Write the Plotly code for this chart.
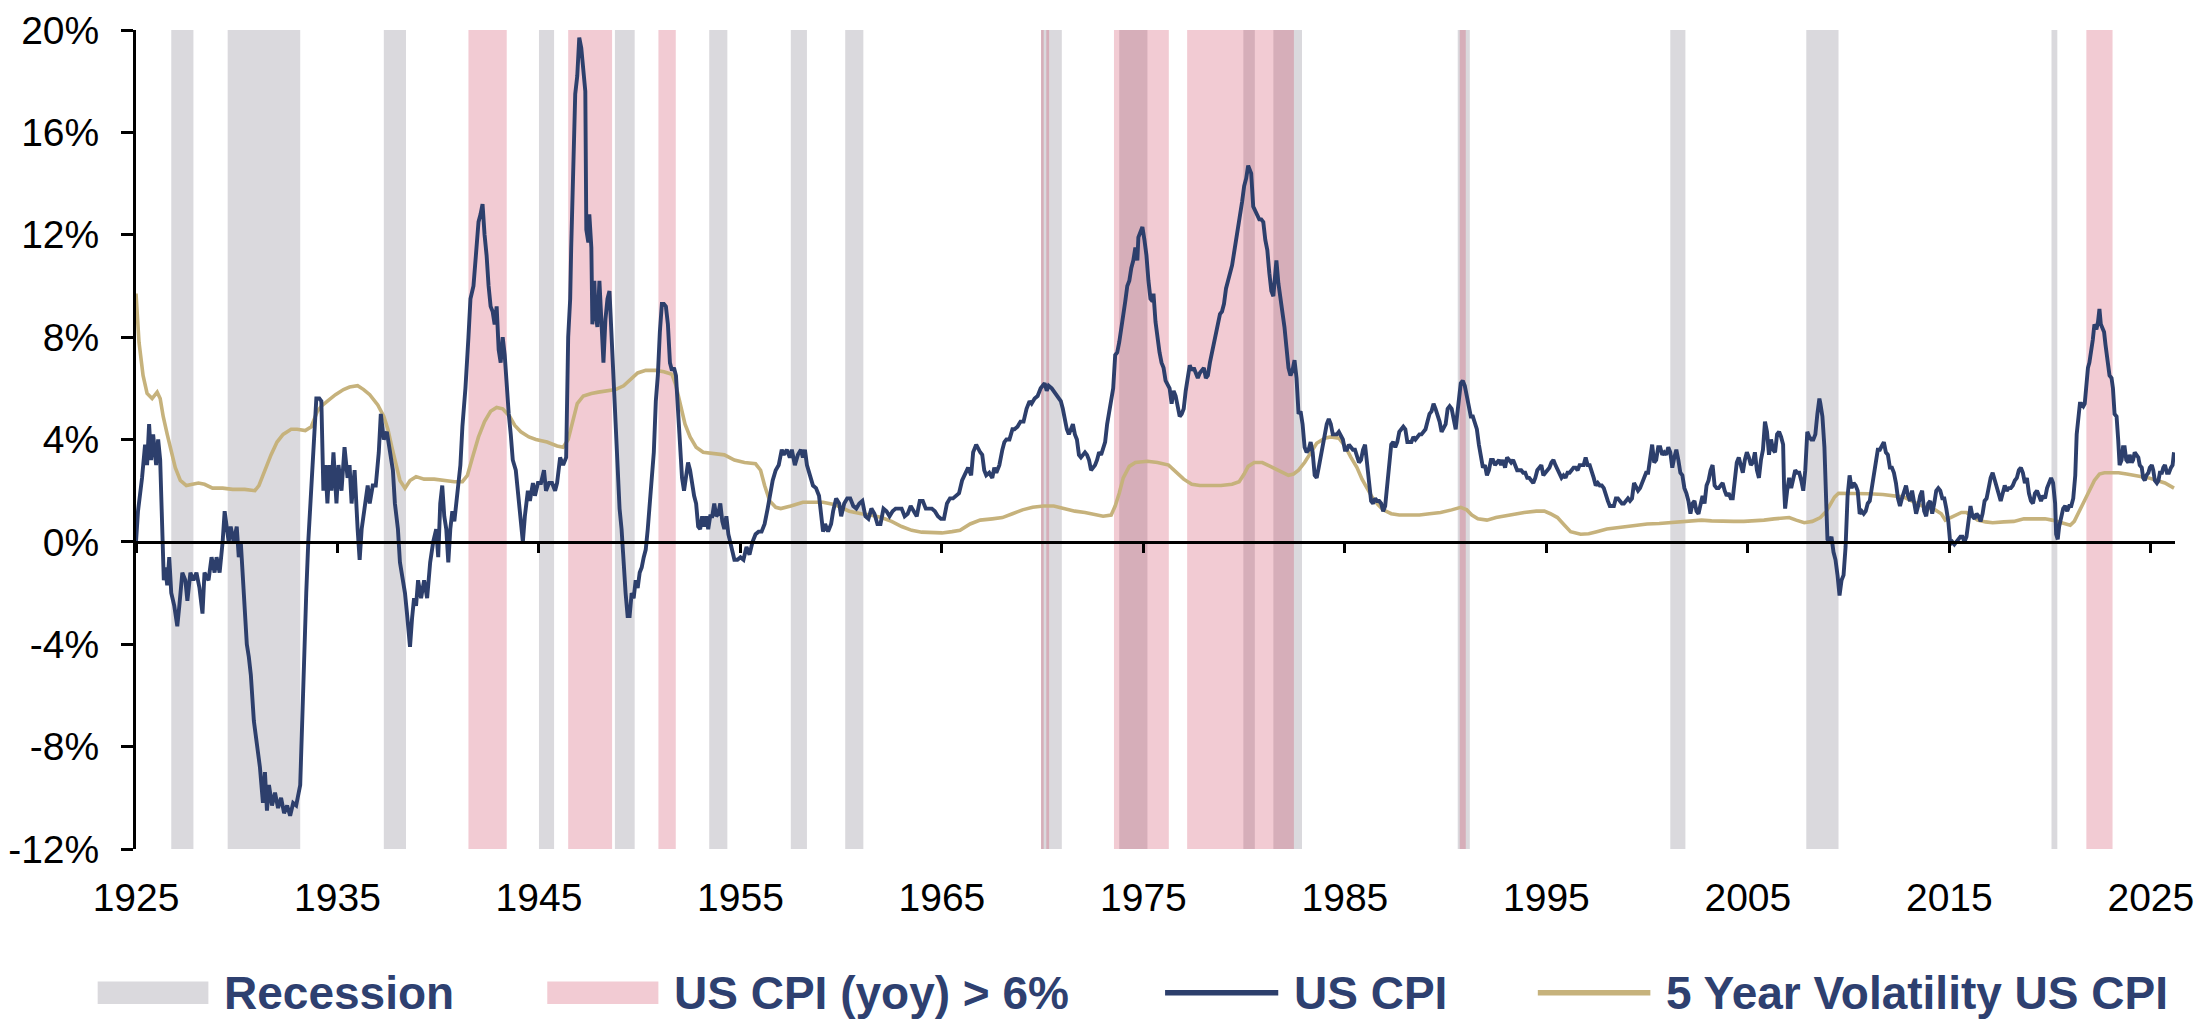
import plotly.graph_objects as go

# ---------------- data ----------------
cpi_year = [
    1925.0, 1925.1, 1925.3, 1925.45, 1925.55, 1925.65, 1925.75, 1925.85, 1926.0, 1926.1, 1926.2, 1926.3,
    1926.38, 1926.45, 1926.55, 1926.65, 1926.75, 1926.9, 1927.05, 1927.15, 1927.3, 1927.45, 1927.55, 1927.7,
    1927.85, 1928.0, 1928.15, 1928.3, 1928.4, 1928.6, 1928.75, 1928.9, 1929.0, 1929.15, 1929.3, 1929.4,
    1929.5, 1929.6, 1929.7, 1929.85, 1930.0, 1930.1, 1930.2, 1930.3, 1930.4, 1930.5, 1930.6, 1930.7,
    1930.85, 1931.0, 1931.15, 1931.3, 1931.4, 1931.5, 1931.6, 1931.75, 1931.9, 1932.05, 1932.2, 1932.35,
    1932.5, 1932.65, 1932.8, 1932.95, 1933.05, 1933.15, 1933.25, 1933.35, 1933.45, 1933.55, 1933.65, 1933.75,
    1933.85, 1933.95, 1934.1, 1934.2, 1934.3, 1934.4, 1934.5, 1934.6, 1934.7, 1934.8, 1934.95, 1935.05,
    1935.2, 1935.35, 1935.5, 1935.6, 1935.7, 1935.85, 1936.0, 1936.1, 1936.2, 1936.35, 1936.5, 1936.6,
    1936.75, 1936.9, 1937.05, 1937.15, 1937.3, 1937.45, 1937.6, 1937.75, 1937.85, 1938.0, 1938.1, 1938.25,
    1938.35, 1938.45, 1938.6, 1938.7, 1938.8, 1938.9, 1939.0, 1939.15, 1939.3, 1939.45, 1939.6, 1939.75,
    1939.9, 1940.0, 1940.1, 1940.2, 1940.3, 1940.4, 1940.5, 1940.6, 1940.7, 1940.8, 1940.9, 1941.0,
    1941.1, 1941.2, 1941.35, 1941.5, 1941.6, 1941.75, 1941.85, 1942.0, 1942.1, 1942.2, 1942.3, 1942.4,
    1942.5, 1942.6, 1942.7, 1942.8, 1942.9, 1943.0, 1943.1, 1943.2, 1943.3, 1943.4, 1943.5, 1943.6,
    1943.7, 1943.85, 1944.0, 1944.1, 1944.2, 1944.3, 1944.45, 1944.55, 1944.7, 1944.8, 1944.95, 1945.1,
    1945.25, 1945.35, 1945.5, 1945.65, 1945.8, 1945.9, 1946.05, 1946.2, 1946.35, 1946.45, 1946.55, 1946.6,
    1946.7, 1946.8, 1946.9, 1947.0, 1947.1, 1947.2, 1947.3, 1947.35, 1947.45, 1947.5, 1947.6, 1947.65,
    1947.75, 1947.8, 1947.9, 1948.0, 1948.1, 1948.2, 1948.3, 1948.4, 1948.5, 1948.6, 1948.7, 1948.8,
    1948.9, 1949.0, 1949.1, 1949.2, 1949.3, 1949.4, 1949.5, 1949.6, 1949.7, 1949.8, 1949.9, 1950.0,
    1950.1, 1950.2, 1950.3, 1950.4, 1950.5, 1950.6, 1950.7, 1950.8, 1950.9, 1951.0, 1951.1, 1951.2,
    1951.3, 1951.4, 1951.5, 1951.6, 1951.7, 1951.8, 1951.9, 1952.0, 1952.1, 1952.2, 1952.3, 1952.4,
    1952.5, 1952.6, 1952.7, 1952.8, 1952.9, 1953.0, 1953.1, 1953.2, 1953.3, 1953.4, 1953.5, 1953.6,
    1953.7, 1953.8, 1953.9, 1954.0, 1954.1, 1954.2, 1954.3, 1954.4, 1954.5, 1954.6, 1954.7, 1954.85,
    1955.0, 1955.15, 1955.3, 1955.45, 1955.6, 1955.75, 1955.9, 1956.05, 1956.2, 1956.35, 1956.5, 1956.6,
    1956.75, 1956.9, 1957.05, 1957.15, 1957.3, 1957.45, 1957.55, 1957.7, 1957.85, 1958.0, 1958.1, 1958.2,
    1958.3, 1958.45, 1958.6, 1958.75, 1958.9, 1959.0, 1959.1, 1959.2, 1959.35, 1959.5, 1959.6, 1959.75,
    1959.9, 1960.0, 1960.15, 1960.3, 1960.45, 1960.6, 1960.75, 1960.9, 1961.05, 1961.2, 1961.35, 1961.5,
    1961.65, 1961.8, 1961.95, 1962.1, 1962.25, 1962.4, 1962.55, 1962.7, 1962.85, 1963.0, 1963.15, 1963.3,
    1963.45, 1963.6, 1963.75, 1963.9, 1964.05, 1964.2, 1964.35, 1964.5, 1964.65, 1964.8, 1964.95, 1965.1,
    1965.25, 1965.4, 1965.55, 1965.7, 1965.85, 1966.0, 1966.15, 1966.3, 1966.45, 1966.55, 1966.7, 1966.8,
    1966.9, 1967.0, 1967.1, 1967.2, 1967.35, 1967.5, 1967.6, 1967.7, 1967.85, 1968.0, 1968.1, 1968.2,
    1968.35, 1968.5, 1968.6, 1968.75, 1968.9, 1969.05, 1969.2, 1969.35, 1969.45, 1969.6, 1969.75, 1969.9,
    1970.0, 1970.1, 1970.2, 1970.3, 1970.45, 1970.55, 1970.7, 1970.8, 1970.9, 1971.0, 1971.1, 1971.2,
    1971.3, 1971.4, 1971.5, 1971.6, 1971.7, 1971.8, 1971.9, 1972.0, 1972.1, 1972.2, 1972.3, 1972.4,
    1972.5, 1972.6, 1972.7, 1972.8, 1972.9, 1973.0, 1973.1, 1973.2, 1973.3, 1973.4, 1973.5, 1973.6,
    1973.7, 1973.8, 1973.9, 1974.0, 1974.1, 1974.2, 1974.3, 1974.4, 1974.5, 1974.6, 1974.7, 1974.75,
    1974.85, 1974.95, 1975.05, 1975.15, 1975.25, 1975.35, 1975.45, 1975.5, 1975.6, 1975.7, 1975.8, 1975.9,
    1976.0, 1976.1, 1976.2, 1976.3, 1976.4, 1976.5, 1976.6, 1976.7, 1976.8, 1976.9, 1977.0, 1977.1,
    1977.2, 1977.3, 1977.4, 1977.5, 1977.6, 1977.7, 1977.8, 1977.9, 1978.0, 1978.1, 1978.2, 1978.3,
    1978.4, 1978.5, 1978.6, 1978.7, 1978.8, 1978.9, 1979.0, 1979.1, 1979.2, 1979.3, 1979.4, 1979.5,
    1979.6, 1979.7, 1979.8, 1979.9, 1980.0, 1980.1, 1980.2, 1980.3, 1980.35, 1980.45, 1980.55, 1980.65,
    1980.75, 1980.85, 1980.95, 1981.05, 1981.15, 1981.25, 1981.35, 1981.45, 1981.55, 1981.6, 1981.7, 1981.8,
    1981.9, 1982.0, 1982.1, 1982.2, 1982.3, 1982.4, 1982.5, 1982.6, 1982.7, 1982.8, 1982.9, 1983.0,
    1983.1, 1983.2, 1983.3, 1983.4, 1983.5, 1983.6, 1983.7, 1983.8, 1983.9, 1984.0, 1984.1, 1984.2,
    1984.3, 1984.4, 1984.5, 1984.6, 1984.7, 1984.8, 1984.9, 1985.0, 1985.1, 1985.2, 1985.3, 1985.4,
    1985.5, 1985.6, 1985.7, 1985.8, 1985.9, 1986.0, 1986.1, 1986.2, 1986.3, 1986.4, 1986.5, 1986.6,
    1986.7, 1986.8, 1986.9, 1987.0, 1987.1, 1987.2, 1987.3, 1987.4, 1987.5, 1987.6, 1987.7, 1987.8,
    1987.9, 1988.0, 1988.1, 1988.2, 1988.3, 1988.4, 1988.5, 1988.6, 1988.7, 1988.8, 1988.9, 1989.0,
    1989.1, 1989.2, 1989.3, 1989.4, 1989.5, 1989.6, 1989.7, 1989.8, 1989.9, 1990.0, 1990.1, 1990.2,
    1990.3, 1990.4, 1990.5, 1990.55, 1990.65, 1990.75, 1990.85, 1990.95, 1991.05, 1991.15, 1991.25, 1991.35,
    1991.45, 1991.55, 1991.65, 1991.75, 1991.85, 1991.95, 1992.05, 1992.15, 1992.25, 1992.35, 1992.45, 1992.55,
    1992.65, 1992.75, 1992.85, 1992.95, 1993.05, 1993.15, 1993.25, 1993.35, 1993.45, 1993.55, 1993.65, 1993.75,
    1993.85, 1993.95, 1994.05, 1994.15, 1994.25, 1994.35, 1994.45, 1994.55, 1994.65, 1994.75, 1994.85, 1994.95,
    1995.05, 1995.15, 1995.25, 1995.35, 1995.45, 1995.55, 1995.65, 1995.75, 1995.85, 1995.95, 1996.05, 1996.15,
    1996.25, 1996.35, 1996.45, 1996.55, 1996.65, 1996.75, 1996.85, 1996.95, 1997.05, 1997.15, 1997.25, 1997.35,
    1997.45, 1997.55, 1997.65, 1997.75, 1997.85, 1997.95, 1998.05, 1998.15, 1998.25, 1998.35, 1998.45, 1998.55,
    1998.65, 1998.75, 1998.85, 1998.95, 1999.05, 1999.15, 1999.25, 1999.35, 1999.45, 1999.55, 1999.65, 1999.75,
    1999.85, 1999.95, 2000.05, 2000.15, 2000.25, 2000.35, 2000.45, 2000.55, 2000.65, 2000.75, 2000.85, 2000.95,
    2001.05, 2001.15, 2001.25, 2001.35, 2001.45, 2001.55, 2001.65, 2001.75, 2001.85, 2001.95, 2002.05, 2002.15,
    2002.25, 2002.35, 2002.45, 2002.55, 2002.65, 2002.75, 2002.85, 2002.95, 2003.05, 2003.15, 2003.25, 2003.35,
    2003.45, 2003.55, 2003.65, 2003.75, 2003.85, 2003.95, 2004.05, 2004.15, 2004.25, 2004.35, 2004.45, 2004.55,
    2004.65, 2004.75, 2004.85, 2004.95, 2005.05, 2005.15, 2005.25, 2005.35, 2005.45, 2005.55, 2005.65, 2005.75,
    2005.85, 2005.95, 2006.05, 2006.15, 2006.25, 2006.35, 2006.45, 2006.55, 2006.65, 2006.75, 2006.8, 2006.85,
    2006.95, 2007.05, 2007.15, 2007.25, 2007.35, 2007.45, 2007.55, 2007.65, 2007.75, 2007.85, 2007.95, 2008.05,
    2008.15, 2008.25, 2008.35, 2008.45, 2008.55, 2008.6, 2008.7, 2008.8, 2008.9, 2008.95, 2009.05, 2009.15,
    2009.25, 2009.35, 2009.45, 2009.55, 2009.65, 2009.75, 2009.85, 2009.95, 2010.05, 2010.15, 2010.25, 2010.35,
    2010.45, 2010.55, 2010.65, 2010.75, 2010.85, 2010.95, 2011.05, 2011.15, 2011.25, 2011.35, 2011.45, 2011.55,
    2011.65, 2011.75, 2011.85, 2011.95, 2012.05, 2012.15, 2012.25, 2012.35, 2012.45, 2012.55, 2012.65, 2012.75,
    2012.85, 2012.95, 2013.05, 2013.15, 2013.25, 2013.35, 2013.45, 2013.55, 2013.65, 2013.75, 2013.85, 2013.95,
    2014.05, 2014.15, 2014.25, 2014.35, 2014.45, 2014.55, 2014.65, 2014.75, 2014.85, 2014.95, 2015.05, 2015.15,
    2015.25, 2015.35, 2015.45, 2015.55, 2015.65, 2015.75, 2015.85, 2015.95, 2016.05, 2016.15, 2016.25, 2016.35,
    2016.45, 2016.55, 2016.65, 2016.75, 2016.85, 2016.95, 2017.05, 2017.15, 2017.25, 2017.35, 2017.45, 2017.55,
    2017.65, 2017.75, 2017.85, 2017.95, 2018.05, 2018.15, 2018.25, 2018.35, 2018.45, 2018.55, 2018.65, 2018.75,
    2018.85, 2018.95, 2019.05, 2019.15, 2019.25, 2019.35, 2019.45, 2019.55, 2019.65, 2019.75, 2019.85, 2019.95,
    2020.05, 2020.15, 2020.25, 2020.3, 2020.38, 2020.45, 2020.55, 2020.65, 2020.75, 2020.85, 2020.95, 2021.05,
    2021.15, 2021.25, 2021.32, 2021.4, 2021.48, 2021.55, 2021.65, 2021.72, 2021.8, 2021.88, 2021.95, 2022.05,
    2022.12, 2022.2, 2022.3, 2022.38, 2022.45, 2022.52, 2022.6, 2022.68, 2022.75, 2022.85, 2022.95, 2023.05,
    2023.12, 2023.2, 2023.3, 2023.38, 2023.45, 2023.55, 2023.62, 2023.7, 2023.78, 2023.88, 2023.95, 2024.05,
    2024.12, 2024.2, 2024.3, 2024.38, 2024.45, 2024.55, 2024.62, 2024.7, 2024.78, 2024.88, 2024.95, 2025.05,
    2025.12, 2025.2, 2025.3, 2025.38, 2025.45, 2025.55, 2025.62, 2025.7, 2025.8, 2025.9, 2026.0, 2026.08,
    2026.15,
]
cpi_value = [
    0.0, 1.2, 2.5, 3.8, 3.0, 4.6, 3.2, 4.2, 3.0, 4.0, 3.2, 0.5,
    -1.5, -1.0, -1.7, -0.6, -2.0, -2.5, -3.3, -2.5, -1.2, -1.5, -2.3, -1.2,
    -1.5, -1.2, -1.8, -2.8, -1.2, -1.5, -0.6, -1.2, -0.6, -1.2, 0.0, 1.2,
    0.6, 0.0, 0.6, 0.0, 0.6, -0.6, 0.0, -1.5, -2.3, -4.0, -4.5, -5.2,
    -7.0, -8.0, -8.8, -10.2, -9.0, -10.5, -9.5, -10.3, -9.8, -10.4, -10.0, -10.6,
    -10.3, -10.7, -10.2, -10.3, -9.8, -9.5, -7.0, -4.0, -2.0, 0.0, 1.5, 3.0,
    4.5, 5.6, 5.6, 5.5, 2.0, 3.0, 1.5, 3.0, 2.0, 3.5, 1.5, 3.0,
    2.0, 3.7, 2.5, 3.0, 1.5, 2.8, 0.5, -0.7, 0.5, 1.5, 2.2, 1.5,
    2.2, 2.2, 3.5, 5.0, 4.0, 4.3, 3.5, 2.8, 1.5, 0.5, -0.8, -1.5,
    -2.0, -2.8, -4.1, -3.0, -2.2, -2.5, -1.5, -2.2, -1.5, -2.2, -0.8, 0.0,
    0.5, -0.6, 1.5, 2.2, 1.0, 0.5, -0.8, 0.5, 1.2, 0.8, 1.5, 2.5,
    3.0, 4.5, 6.0, 8.0, 9.5, 10.0, 11.0, 12.5, 12.8, 13.2, 12.0, 11.2,
    10.0, 9.2, 9.0, 8.5, 9.2, 7.5, 7.0, 8.0, 7.3, 6.0, 5.0, 4.2,
    3.2, 2.8, 1.5, 1.0, 0.0, 1.0, 2.0, 1.6, 2.3, 1.8, 2.3, 2.3,
    2.8, 2.0, 2.3, 2.3, 2.0, 2.3, 3.3, 3.0, 3.3, 8.0, 9.5, 11.5,
    14.0, 17.5, 18.2, 19.7, 19.3, 18.5, 17.6, 12.2, 11.7, 12.8, 11.5, 8.5,
    10.2, 9.0, 8.4, 10.2, 8.5, 7.0, 8.7, 9.5, 9.8, 8.0, 6.5, 4.7,
    3.0, 1.3, 0.5, -1.0, -2.0, -2.9, -2.9, -2.0, -2.2, -1.5, -1.8, -1.2,
    -1.0, -0.6, -0.3, 0.5, 1.5, 2.2, 3.5, 5.5, 6.5, 8.2, 9.3, 9.3,
    9.2, 8.5, 7.0, 6.7, 6.8, 6.5, 5.0, 4.2, 2.5, 2.0, 2.5, 3.1,
    2.8, 2.2, 1.8, 1.5, 0.6, 0.5, 1.0, 0.6, 1.0, 0.5, 1.0, 1.0,
    1.5, 1.0, 1.1, 1.5, 0.8, 0.5, 1.0, 0.3, 0.0, -0.4, -0.7, -0.7,
    -0.6, -0.7, -0.2, -0.5, 0.0, 0.3, 0.4, 0.4, 0.7, 1.3, 2.0, 2.4,
    2.8, 3.0, 3.6, 3.4, 3.6, 3.3, 3.6, 3.0, 3.4, 3.6, 3.3, 3.6,
    3.0, 2.6, 2.2, 2.1, 1.8, 1.1, 0.4, 0.7, 0.4, 0.7, 1.2, 1.7,
    1.5, 1.0, 1.5, 1.7, 1.7, 1.4, 1.3, 1.5, 1.6, 1.0, 0.9, 1.3,
    1.1, 0.7, 0.7, 1.3, 1.2, 1.0, 1.2, 1.3, 1.3, 1.3, 1.0, 1.1,
    1.4, 1.2, 1.0, 1.6, 1.6, 1.3, 1.3, 1.3, 1.2, 1.0, 0.9, 0.9,
    1.5, 1.7, 1.7, 1.8, 1.9, 2.4, 2.7, 2.9, 2.6, 3.5, 3.8, 3.6,
    3.5, 3.4, 2.8, 2.6, 2.7, 2.5, 2.9, 2.7, 3.0, 3.6, 3.9, 4.0,
    4.0, 4.4, 4.4, 4.5, 4.7, 4.7, 5.2, 5.5, 5.4, 5.6, 5.7, 6.0,
    6.1, 6.2, 5.9, 6.1, 6.0, 5.9, 5.7, 5.6, 5.5, 5.2, 4.8, 4.4,
    4.2, 4.4, 4.6, 4.2, 4.0, 3.4, 3.3, 3.4, 3.5, 3.4, 3.2, 2.8,
    2.9, 3.0, 3.2, 3.5, 3.4, 3.6, 3.9, 4.6, 5.1, 5.6, 6.0, 7.3,
    7.4, 7.8, 8.3, 8.7, 9.4, 10.0, 10.2, 10.7, 11.0, 11.5, 11.0, 11.9,
    12.1, 12.3, 11.8, 11.2, 10.2, 9.5, 9.4, 9.7, 8.6, 7.9, 7.4, 7.0,
    6.8, 6.3, 6.1, 6.0, 5.4, 5.9, 5.7, 5.3, 4.9, 5.0, 5.2, 5.9,
    6.4, 6.9, 6.7, 6.8, 6.6, 6.4, 6.6, 6.7, 6.8, 6.4, 6.5, 7.0,
    7.4, 7.7, 8.1, 8.4, 8.9, 9.0, 9.3, 9.9, 10.2, 10.5, 10.8, 11.3,
    11.8, 12.1, 12.6, 13.3, 13.9, 14.2, 14.7, 14.5, 14.4, 13.1, 12.9, 12.8,
    12.6, 12.6, 12.5, 11.8, 11.4, 10.5, 9.8, 9.6, 10.8, 11.0, 10.1, 9.6,
    8.9, 8.4, 7.6, 6.8, 6.5, 6.7, 7.1, 6.4, 5.0, 5.1, 4.6, 3.7,
    3.5, 3.6, 3.9, 3.5, 2.6, 2.5, 2.9, 3.3, 3.8, 4.2, 4.6, 4.8,
    4.6, 4.2, 4.2, 4.2, 4.3, 4.1, 4.0, 3.6, 3.6, 3.8, 3.7, 3.6,
    3.6, 3.3, 3.1, 3.2, 3.6, 3.8, 3.1, 2.3, 1.6, 1.5, 1.7, 1.6,
    1.6, 1.5, 1.2, 1.4, 2.2, 3.0, 3.8, 3.9, 3.7, 3.9, 4.3, 4.4,
    4.5, 4.4, 3.9, 3.9, 3.9, 4.1, 4.0, 4.1, 4.2, 4.2, 4.3, 4.4,
    4.7, 5.0, 5.1, 5.4, 5.2, 5.0, 4.7, 4.3, 4.5, 4.6, 5.2, 5.3,
    5.2, 4.7, 4.4, 4.8, 5.6, 6.2, 6.3, 6.1, 5.7, 5.3, 4.9, 4.9,
    4.7, 4.4, 3.8, 3.4, 2.9, 3.0, 2.6, 2.8, 3.2, 3.2, 3.0, 3.1,
    3.2, 3.0, 3.2, 2.9, 3.3, 3.2, 3.1, 3.2, 3.0, 2.8, 2.8, 2.8,
    2.7, 2.7, 2.5, 2.5, 2.4, 2.3, 2.5, 2.8, 2.9, 3.0, 2.6, 2.7,
    2.8, 2.9, 3.1, 3.2, 3.0, 2.8, 2.6, 2.5, 2.6, 2.5, 2.7, 2.7,
    2.8, 2.9, 2.9, 2.8, 3.0, 3.0, 3.0, 3.3, 3.0, 3.0, 2.8, 2.5,
    2.2, 2.3, 2.2, 2.2, 2.1, 1.8, 1.6, 1.4, 1.4, 1.4, 1.7, 1.7,
    1.6, 1.5, 1.5, 1.6, 1.7, 1.6, 1.7, 2.3, 2.1, 2.0, 2.1, 2.3,
    2.6, 2.7, 2.7, 3.2, 3.8, 3.1, 3.2, 3.7, 3.7, 3.4, 3.5, 3.4,
    3.7, 3.5, 2.9, 3.3, 3.6, 3.2, 2.7, 2.6, 2.1, 1.9, 1.6, 1.1,
    1.5, 1.6, 1.2, 1.1, 1.5, 1.8, 1.5, 2.2, 2.4, 2.8, 3.0, 2.2,
    2.1, 2.1, 2.2, 2.3, 2.0, 1.8, 1.9, 1.7, 1.7, 2.3, 3.1, 3.3,
    3.0, 2.7, 3.2, 3.5, 3.3, 3.0, 3.1, 3.5, 2.8, 2.5, 3.2, 3.6,
    4.7, 4.3, 3.4, 4.0, 3.6, 3.5, 4.2, 4.3, 4.1, 3.8, 2.1, 1.3,
    2.0, 2.5, 2.1, 2.4, 2.8, 2.7, 2.7, 2.4, 2.0, 2.8, 4.3, 4.1,
    4.0, 4.0, 4.2, 5.0, 5.6, 5.4, 4.9, 3.7, 1.1, 0.1, 0.0, 0.2,
    -0.4, -0.7, -1.3, -2.1, -1.5, -1.3, -0.2, 1.8, 2.6, 2.1, 2.3, 2.2,
    2.0, 1.1, 1.2, 1.1, 1.2, 1.5, 1.6, 2.1, 2.7, 3.2, 3.6, 3.6,
    3.8, 3.9, 3.5, 3.4, 2.9, 2.9, 2.7, 2.3, 1.7, 1.4, 1.7, 2.0,
    2.2, 1.8, 1.6, 2.0, 1.5, 1.1, 1.4, 1.8, 2.0, 1.2, 1.0, 1.5,
    1.6, 1.1, 1.5, 2.0, 2.1, 2.0, 1.7, 1.7, 1.3, 0.8, -0.1, 0.0,
    -0.1, 0.0, 0.1, 0.2, 0.2, 0.0, 0.2, 0.7, 1.4, 1.0, 0.9, 1.1,
    1.0, 0.8, 1.1, 1.6, 1.7, 2.1, 2.5, 2.7, 2.4, 2.2, 1.9, 1.6,
    1.9, 2.2, 2.0, 2.1, 2.1, 2.2, 2.4, 2.5, 2.8, 2.9, 2.7, 2.3,
    2.5, 1.9, 1.6, 1.5, 1.9, 2.0, 1.8, 1.6, 1.8, 1.7, 2.1, 2.3,
    2.5, 2.3, 1.5, 0.3, 0.1, 0.6, 1.0, 1.3, 1.4, 1.2, 1.4, 1.4,
    1.7, 2.6, 4.2, 5.0, 5.4, 5.4, 5.3, 5.4, 6.2, 6.8, 7.0, 7.5,
    7.9, 8.5, 8.3, 8.6, 9.1, 8.5, 8.3, 8.2, 7.7, 7.1, 6.5, 6.4,
    6.0, 5.0, 4.9, 4.0, 3.0, 3.2, 3.7, 3.7, 3.2, 3.1, 3.4, 3.1,
    3.2, 3.5, 3.4, 3.3, 3.0, 2.9, 2.5, 2.4, 2.6, 2.7, 2.9, 3.0,
    2.8, 2.4, 2.3, 2.4, 2.7, 2.7, 2.9, 3.0, 2.7, 2.7, 2.9, 3.0,
    3.5,
]

vol_year = [
    1925.0, 1925.15, 1925.35, 1925.55, 1925.8, 1926.05, 1926.2, 1926.35, 1926.55, 1926.75, 1926.95, 1927.2,
    1927.5, 1927.8, 1928.1, 1928.4, 1928.8, 1929.3, 1929.8, 1930.4, 1930.9, 1931.1, 1931.4, 1931.7,
    1932.0, 1932.3, 1932.7, 1933.0, 1933.4, 1933.7, 1934.0, 1934.2, 1934.5, 1934.9, 1935.3, 1935.6,
    1936.0, 1936.3, 1936.6, 1937.0, 1937.3, 1937.5, 1937.7, 1937.9, 1938.1, 1938.35, 1938.6, 1938.9,
    1939.3, 1939.8, 1940.3, 1940.8, 1941.2, 1941.45, 1941.7, 1942.0, 1942.3, 1942.6, 1942.9, 1943.2,
    1943.55, 1943.8, 1944.1, 1944.5, 1944.85, 1945.4, 1945.9, 1946.2, 1946.45, 1946.65, 1946.9, 1947.2,
    1947.6, 1947.95, 1948.4, 1948.8, 1949.2, 1949.6, 1949.9, 1950.3, 1950.8, 1951.2, 1951.6, 1951.8,
    1952.0, 1952.25, 1952.5, 1952.8, 1953.15, 1953.6, 1954.2, 1954.7, 1955.2, 1955.75, 1956.0, 1956.2,
    1956.45, 1956.75, 1957.0, 1957.5, 1958.1, 1958.6, 1959.1, 1959.7, 1960.4, 1961.0, 1961.45, 1962.0,
    1962.5, 1963.0, 1963.5, 1964.0, 1964.55, 1965.0, 1965.5, 1965.9, 1966.4, 1966.9, 1967.5, 1968.0,
    1968.5, 1969.0, 1969.5, 1970.05, 1970.55, 1971.0, 1971.6, 1972.1, 1972.6, 1973.0, 1973.4, 1973.6,
    1973.8, 1974.0, 1974.3, 1974.6, 1975.2, 1975.7, 1976.25, 1976.6, 1977.0, 1977.4, 1977.8, 1978.4,
    1978.85, 1979.4, 1979.75, 1980.0, 1980.2, 1980.5, 1980.9, 1981.3, 1981.7, 1982.0, 1982.2, 1982.45,
    1982.7, 1983.0, 1983.3, 1983.6, 1984.0, 1984.3, 1984.7, 1985.0, 1985.3, 1985.6, 1985.85, 1986.1,
    1986.35, 1986.65, 1986.9, 1987.3, 1987.7, 1988.2, 1988.7, 1989.2, 1989.75, 1990.3, 1990.75, 1991.05,
    1991.3, 1991.6, 1992.05, 1992.5, 1992.8, 1993.4, 1993.9, 1994.5, 1994.9, 1995.2, 1995.55, 1995.9,
    1996.2, 1996.7, 1997.1, 1997.5, 1998.0, 1998.5, 1999.0, 1999.5, 2000.0, 2000.6, 2001.1, 2001.65,
    2002.2, 2002.7, 2003.2, 2003.7, 2004.3, 2004.8, 2005.3, 2005.8, 2006.3, 2006.7, 2007.05, 2007.4,
    2007.8, 2008.2, 2008.6, 2008.9, 2009.1, 2009.3, 2009.5, 2010.0, 2010.4, 2011.0, 2011.7, 2012.2,
    2012.75, 2013.25, 2013.8, 2014.3, 2014.6, 2014.8, 2015.1, 2015.35, 2015.6, 2015.85, 2016.1, 2016.4,
    2016.8, 2017.15, 2017.7, 2018.2, 2018.7, 2019.2, 2019.75, 2020.1, 2020.5, 2020.8, 2021.0, 2021.2,
    2021.4, 2021.7, 2021.95, 2022.2, 2022.45, 2022.7, 2023.1, 2023.4, 2023.8, 2024.15, 2024.5, 2024.9,
    2025.3, 2025.7, 2026.15,
]
vol_value = [
    9.7, 7.8, 6.5, 5.8, 5.6, 5.85, 5.6, 4.9, 4.2, 3.5, 2.9, 2.4,
    2.2, 2.25, 2.3, 2.25, 2.1, 2.1, 2.05, 2.05, 2.0, 2.2, 2.8, 3.4,
    3.9, 4.2, 4.4, 4.4, 4.35, 4.5, 5.1, 5.3, 5.5, 5.75, 5.95, 6.05,
    6.1, 5.95, 5.75, 5.35, 4.9, 4.4, 3.7, 3.0, 2.4, 2.1, 2.4, 2.55,
    2.45, 2.45, 2.4, 2.35, 2.35, 2.6, 3.3, 4.1, 4.7, 5.1, 5.25, 5.2,
    4.9, 4.55, 4.3, 4.1, 4.0, 3.9, 3.75, 3.7, 4.0, 4.6, 5.4, 5.7,
    5.8, 5.85, 5.9, 5.95, 6.1, 6.4, 6.6, 6.7, 6.7, 6.65, 6.55, 6.1,
    5.4, 4.6, 4.1, 3.7, 3.5, 3.45, 3.4, 3.2, 3.1, 3.05, 2.8, 2.2,
    1.6, 1.35, 1.3, 1.4, 1.55, 1.55, 1.55, 1.45, 1.2, 1.1, 1.05, 0.95,
    0.8, 0.6, 0.45, 0.38, 0.35, 0.35, 0.4, 0.45, 0.7, 0.85, 0.9, 0.95,
    1.1, 1.25, 1.35, 1.4, 1.4, 1.3, 1.2, 1.15, 1.05, 1.0, 1.05, 1.4,
    1.9, 2.5, 2.95, 3.1, 3.15, 3.1, 3.0, 2.75, 2.45, 2.25, 2.2, 2.2,
    2.2, 2.25, 2.35, 2.65, 2.95, 3.1, 3.1, 2.95, 2.8, 2.65, 2.6, 2.65,
    2.8, 3.1, 3.5, 3.85, 4.05, 4.1, 4.05, 3.75, 3.3, 2.9, 2.45, 2.1,
    1.75, 1.45, 1.25, 1.1, 1.05, 1.05, 1.05, 1.1, 1.15, 1.25, 1.35, 1.25,
    1.05, 0.9, 0.85, 0.95, 1.0, 1.1, 1.15, 1.2, 1.2, 1.1, 0.95, 0.65,
    0.4, 0.3, 0.32, 0.4, 0.5, 0.55, 0.6, 0.65, 0.7, 0.72, 0.75, 0.8,
    0.82, 0.85, 0.82, 0.8, 0.8, 0.8, 0.82, 0.85, 0.9, 0.92, 0.95, 0.85,
    0.75, 0.8, 0.95, 1.2, 1.45, 1.75, 1.9, 1.9, 1.9, 1.88, 1.85, 1.8,
    1.75, 1.55, 1.35, 1.25, 1.1, 0.85, 0.95, 1.05, 1.15, 1.15, 1.0, 0.85,
    0.78, 0.75, 0.78, 0.8, 0.9, 0.9, 0.9, 0.85, 0.75, 0.68, 0.65, 0.8,
    1.15, 1.6, 2.0, 2.4, 2.65, 2.7, 2.7, 2.7, 2.65, 2.6, 2.55, 2.5,
    2.4, 2.3, 2.1,
]

recession_start = [1926.75, 1929.55, 1937.3, 1945.0, 1948.77, 1953.45, 1957.5, 1960.2,
                   1969.92, 1973.8, 1979.96, 1981.45, 1990.6, 2001.15, 2007.9, 2020.07]
recession_end = [1927.85, 1933.15, 1938.4, 1945.75, 1949.75, 1954.35, 1958.3, 1961.1,
                 1970.95, 1975.2, 1980.53, 1982.87, 1991.2, 2001.9, 2009.5, 2020.36]

high_cpi_start = [1941.5, 1946.45, 1950.93, 1969.92, 1970.18, 1973.54, 1977.17, 1990.7, 2021.8]
high_cpi_end = [1943.4, 1948.63, 1951.79, 1970.05, 1970.32, 1976.26, 1982.47, 1991.0, 2023.1]

x_tick_years = [1925, 1935, 1945, 1955, 1965, 1975, 1985, 1995, 2005, 2015, 2025]
x_tick_labels = [str(y) for y in x_tick_years]
y_tick_values = [-12, -8, -4, 0, 4, 8, 12, 16, 20]
y_tick_labels = ["-12%", "-8%", "-4%", "0%", "4%", "8%", "12%", "16%", "20%"]

legend_labels = ["Recession", "US CPI (yoy) > 6%", "US CPI", "5 Year Volatility US CPI"]

# ---------------- style ----------------
NAVY = "#2D3F6C"
TAN = "#C6B27C"
GREY = "#DAD9DD"
PINK = "rgba(203,47,79,0.25)"
LEGEND_TEXT = "#2E4070"
FONT = "Liberation Sans, Arial, sans-serif"

fig = go.Figure()

fig.add_trace(go.Scatter(
    x=vol_year, y=vol_value, mode="lines", name=legend_labels[3],
    line=dict(color=TAN, width=3.6), showlegend=False, hoverinfo="skip",
    xaxis="x", yaxis="y",
))
fig.add_trace(go.Scatter(
    x=cpi_year, y=cpi_value, mode="lines", name=legend_labels[2],
    line=dict(color=NAVY, width=3.9), showlegend=False, hoverinfo="skip",
    xaxis="x2", yaxis="y",
))

shapes = []
for s, e in zip(recession_start, recession_end):
    shapes.append(dict(type="rect", xref="x", yref="paper", x0=s, x1=e, y0=0, y1=1,
                       fillcolor=GREY, line=dict(width=0), layer="below"))
for s, e in zip(high_cpi_start, high_cpi_end):
    shapes.append(dict(type="rect", xref="x", yref="paper", x0=s, x1=e, y0=0, y1=1,
                       fillcolor=PINK, line=dict(width=0), layer="below"))

# custom legend (paper coordinates, below the plot)
leg_y = -0.1755
leg_h = 0.0138
legend_items = [
    ("rect", GREY, -0.0188, 0.0355, 0.0421),
    ("rect", "rgb(242,203,211)", 0.2017, 0.2562, 0.2627),
    ("line", NAVY, 0.5047, 0.5602, 0.5668),
    ("line", TAN, 0.6875, 0.7427, 0.7496),
]
annotations = []
for (kind, col, x0, x1, xt), label in zip(legend_items, legend_labels):
    if kind == "rect":
        shapes.append(dict(type="rect", xref="paper", yref="paper", x0=x0, x1=x1,
                           y0=leg_y - leg_h, y1=leg_y + leg_h, fillcolor=col,
                           line=dict(width=0)))
    else:
        shapes.append(dict(type="line", xref="paper", yref="paper", x0=x0, x1=x1,
                           y0=leg_y, y1=leg_y, line=dict(color=col, width=5.5)))
    annotations.append(dict(text="<b>%s</b>" % label, xref="paper", yref="paper",
                            x=xt, y=leg_y, xanchor="left", yanchor="middle",
                            showarrow=False,
                            font=dict(family=FONT, size=46, color=LEGEND_TEXT)))

fig.update_layout(
    width=2206, height=1036,
    margin=dict(l=136, r=31, t=30, b=187, autoexpand=False),
    paper_bgcolor="white", plot_bgcolor="white",
    showlegend=False,
    font=dict(family=FONT, size=39, color="black"),
    shapes=shapes,
    annotations=annotations,
    xaxis=dict(
        range=[1925, 2026.2], tickmode="array", tickvals=x_tick_years, ticktext=x_tick_labels,
        showgrid=False, zeroline=False, showline=False, ticks="", automargin=False,
        tickfont=dict(family=FONT, size=39, color="black"),
        ticklabelstandoff=22, anchor="y",
    ),
    xaxis2=dict(
        overlaying="x", matches="x", anchor="free", position=0.375, automargin=False,
        tickmode="array", tickvals=x_tick_years, showticklabels=False,
        showgrid=False, zeroline=False, showline=True, linecolor="black", linewidth=3,
        ticks="outside", ticklen=9, tickwidth=3, tickcolor="black",
    ),
    yaxis=dict(
        range=[-12, 20], tickmode="array", tickvals=y_tick_values, ticktext=y_tick_labels,
        showgrid=False, zeroline=False, showline=True, linecolor="black", linewidth=3,
        ticks="outside", ticklen=12, tickwidth=3, tickcolor="black", automargin=False,
        tickfont=dict(family=FONT, size=39, color="black"),
        ticklabelstandoff=14,
    ),
)

fig.write_html("out.html")
